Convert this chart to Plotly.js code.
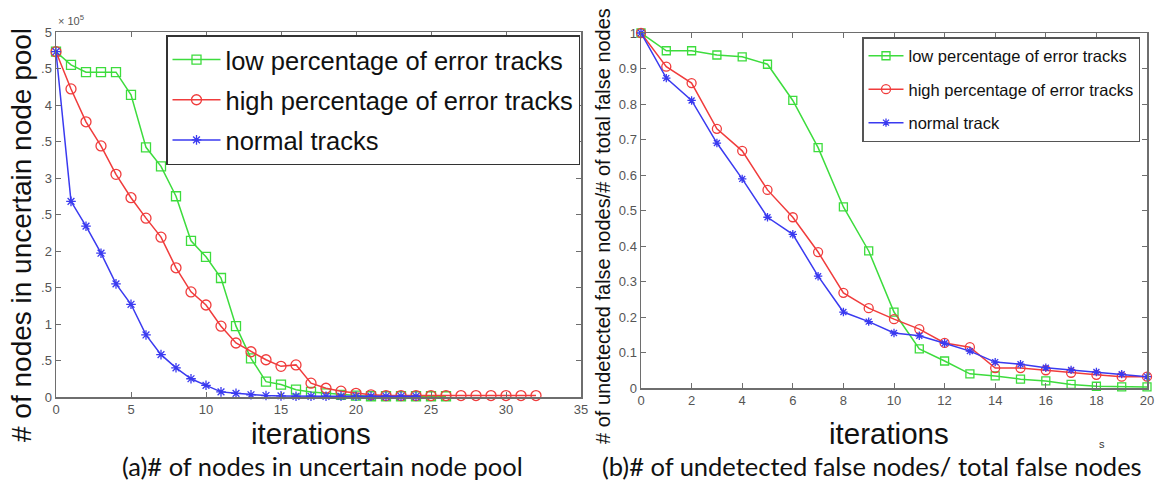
<!DOCTYPE html>
<html>
<head>
<meta charset="utf-8">
<script src="https://cdn.plot.ly/plotly-3.0.1.min.js"></script>
<style>html,body{margin:0;padding:0;background:#fff;}#chart{width:1169px;height:483px;}</style>
</head>
<body>
<div id="chart"></div>
<script>
// ---- Data: panel (a) – nodes in uncertain node pool (x 10^5) ----
const iterLow = [0,1,2,3,4,5,6,7,8,9,10,11,12,13,14,15,16,17,18,19,20,21,22,23,24,25,26];
const poolLow = [4.73,4.55,4.45,4.45,4.45,4.14,3.42,3.16,2.75,2.14,1.92,1.63,0.97,0.53,0.21,0.17,0.10,0.07,0.05,0.03,0.02,0.01,0.01,0.01,0.01,0.01,0.01];
const iterHigh = [0,1,2,3,4,5,6,7,8,9,10,11,12,13,14,15,16,17,18,19,20,21,22,23,24,25,26,27,28,29,30,31,32];
const poolHigh = [4.73,4.22,3.77,3.44,3.05,2.73,2.45,2.19,1.77,1.44,1.26,0.97,0.74,0.62,0.51,0.42,0.44,0.19,0.12,0.08,0.05,0.03,0.02,0.02,0.02,0.02,0.02,0.02,0.02,0.02,0.02,0.02,0.02];
const iterNorm = [0,1,2,3,4,5,6,7,8,9,10,11,12,13,14,15,16,17,18,19,20,21,22,23,24];
const poolNorm = [4.73,2.68,2.34,1.97,1.55,1.27,0.85,0.58,0.40,0.25,0.16,0.07,0.05,0.03,0.02,0.015,0.01,0.01,0.01,0.01,0.01,0.01,0.01,0.01,0.01];

// ---- Data: panel (b) – undetected false nodes / total false nodes ----
const iterB = [0,1,2,3,4,5,6,7,8,9,10,11,12,13,14,15,16,17,18,19,20];
const ratioLow  = [1.0,0.95,0.95,0.938,0.933,0.912,0.81,0.677,0.51,0.386,0.214,0.11,0.076,0.04,0.034,0.025,0.02,0.01,0.005,0.003,0.003];
const ratioHigh = [1.0,0.905,0.859,0.73,0.668,0.558,0.481,0.383,0.268,0.225,0.194,0.166,0.127,0.115,0.056,0.056,0.05,0.043,0.037,0.032,0.032];
const ratioNorm = [1.0,0.873,0.81,0.69,0.589,0.481,0.433,0.315,0.214,0.187,0.155,0.147,0.126,0.104,0.073,0.067,0.057,0.051,0.045,0.039,0.032];

// ---- Labels ----
const namesA = ["low percentage of error tracks","high percentage of error tracks","normal tracks"];
const namesB = ["low percentage of error tracks","high percentage of error tracks","normal track"];
const ticksA_x = [0,5,10,15,20,25,30,35];
const ticksA_y = [0,0.5,1,1.5,2,2.5,3,3.5,4,4.5,5];
const ticksA_ytext = ["0",".5","1",".5","2",".5","3",".5","4",".5","5"];
const ticksB_x = [0,2,4,6,8,10,12,14,16,18,20];
const ticksB_y = [0,0.1,0.2,0.3,0.4,0.5,0.6,0.7,0.8,0.9,1];
const ticksB_ytext = ["0","0.1","0.2","0.3","0.4","0.5","0.6","0.7","0.8","0.9","1"];

const GREEN = "#3ddc3d", RED = "#f03c3c", BLUE = "#3a3af0";
const SANS = "Liberation Sans, Arial, sans-serif";
const CAP = "Lato, Open Sans, sans-serif";

function tr(x, y, name, color, sym, size, xa, ya, leg, grp) {
  return {
    x: x, y: y, name: name, type: "scatter", mode: "lines+markers",
    xaxis: xa, yaxis: ya, legend: leg, legendgroup: grp, cliponaxis: false,
    line: {color: color, width: 1.5},
    marker: {symbol: sym, size: size, color: color, line: {color: color, width: 1.3}}
  };
}

const data = [
  tr(iterLow, poolLow, namesA[0], GREEN, "square-open", 9, "x", "y", "legend", "a1"),
  tr(iterHigh, poolHigh, namesA[1], RED, "circle-open", 10, "x", "y", "legend", "a2"),
  tr(iterNorm, poolNorm, namesA[2], BLUE, "asterisk-open", 8, "x", "y", "legend", "a3"),
  tr(iterB, ratioLow, namesB[0], GREEN, "square-open", 8, "x2", "y2", "legend2", "b1"),
  tr(iterB, ratioHigh, namesB[1], RED, "circle-open", 9, "x2", "y2", "legend2", "b2"),
  tr(iterB, ratioNorm, namesB[2], BLUE, "asterisk-open", 7, "x2", "y2", "legend2", "b3")
];

const axisCommon = {
  showline: true, linecolor: "#6e6e6e", linewidth: 1.5, mirror: "ticks",
  ticks: "inside", ticklen: 5, tickcolor: "#6e6e6e", tickwidth: 1,
  showgrid: false, zeroline: false, fixedrange: true,
  tickfont: {family: SANS, size: 13, color: "#555"}
};

const H = 483, W = 1169;
const layout = {
  width: W, height: H,
  margin: {l: 0, r: 0, t: 0, b: 0},
  paper_bgcolor: "#fff", plot_bgcolor: "#fff",
  font: {family: SANS},
  xaxis: Object.assign({}, axisCommon, {domain: [56/W, 581/W], range: [0, 35], tickvals: ticksA_x, anchor: "y"}),
  yaxis: Object.assign({}, axisCommon, {domain: [(H-397)/H, (H-32)/H], range: [0, 5], tickvals: ticksA_y, ticktext: ticksA_ytext, anchor: "x"}),
  xaxis2: Object.assign({}, axisCommon, {domain: [641/W, 1147/W], range: [0, 20], tickvals: ticksB_x, anchor: "y2"}),
  yaxis2: Object.assign({}, axisCommon, {domain: [(H-388)/H, (H-33)/H], range: [0, 1], tickvals: ticksB_y, ticktext: ticksB_ytext, anchor: "x2"}),
  legend: {
    x: 166/W, y: (H-35)/H, xanchor: "left", yanchor: "top",
    bgcolor: "#fff", bordercolor: "#333", borderwidth: 1.5,
    font: {family: SANS, size: 25.5, color: "#111"}, tracegroupgap: 4, itemwidth: 48
  },
  legend2: {
    x: 862/W, y: (H-37)/H, xanchor: "left", yanchor: "top",
    bgcolor: "#fff", bordercolor: "#555", borderwidth: 1.5,
    font: {family: SANS, size: 16.5, color: "#111"}, tracegroupgap: 9, itemwidth: 35
  },
  annotations: [
    {text: "× 10<sup>5</sup>", xref: "paper", yref: "paper", x: 56/W, y: (H-20)/H, xanchor: "left", yanchor: "middle", showarrow: false, font: {family: SANS, size: 11, color: "#555"}},
    {text: "# of nodes in uncertain node pool", xref: "paper", yref: "paper", x: 22/W, y: (H-235)/H, xanchor: "center", yanchor: "middle", textangle: -90, showarrow: false, font: {family: SANS, size: 28, color: "#111"}},
    {text: "iterations", xref: "paper", yref: "paper", x: 311/W, y: (H-416)/H, xanchor: "center", yanchor: "top", showarrow: false, borderpad: 0, font: {family: SANS, size: 29.5, color: "#111"}},
    {text: "(a)# of nodes in uncertain node pool", xref: "paper", yref: "paper", x: 322/W, y: (H-466)/H, xanchor: "center", yanchor: "middle", showarrow: false, borderpad: 0, font: {family: CAP, size: 25.5, color: "#111"}},
    {text: "# of undetected false nodes/# of total false nodes", xref: "paper", yref: "paper", x: 603/W, y: (H-226)/H, xanchor: "center", yanchor: "middle", textangle: -90, showarrow: false, borderpad: 0, font: {family: SANS, size: 20, color: "#111"}},
    {text: "iterations", xref: "paper", yref: "paper", x: 889/W, y: (H-416)/H, xanchor: "center", yanchor: "top", showarrow: false, borderpad: 0, font: {family: SANS, size: 29.5, color: "#111"}},
    {text: "(b)# of undetected false nodes/ total false nodes", xref: "paper", yref: "paper", x: 872/W, y: (H-466)/H, xanchor: "center", yanchor: "middle", showarrow: false, borderpad: 0, font: {family: CAP, size: 25.5, color: "#111"}},
    {text: "s", xref: "paper", yref: "paper", x: 1102/W, y: (H-444)/H, xanchor: "center", yanchor: "middle", showarrow: false, borderpad: 0, font: {family: SANS, size: 11, color: "#333"}}
  ]
};

Plotly.newPlot("chart", data, layout, {staticPlot: true, displayModeBar: false});
</script>
</body>
</html>
